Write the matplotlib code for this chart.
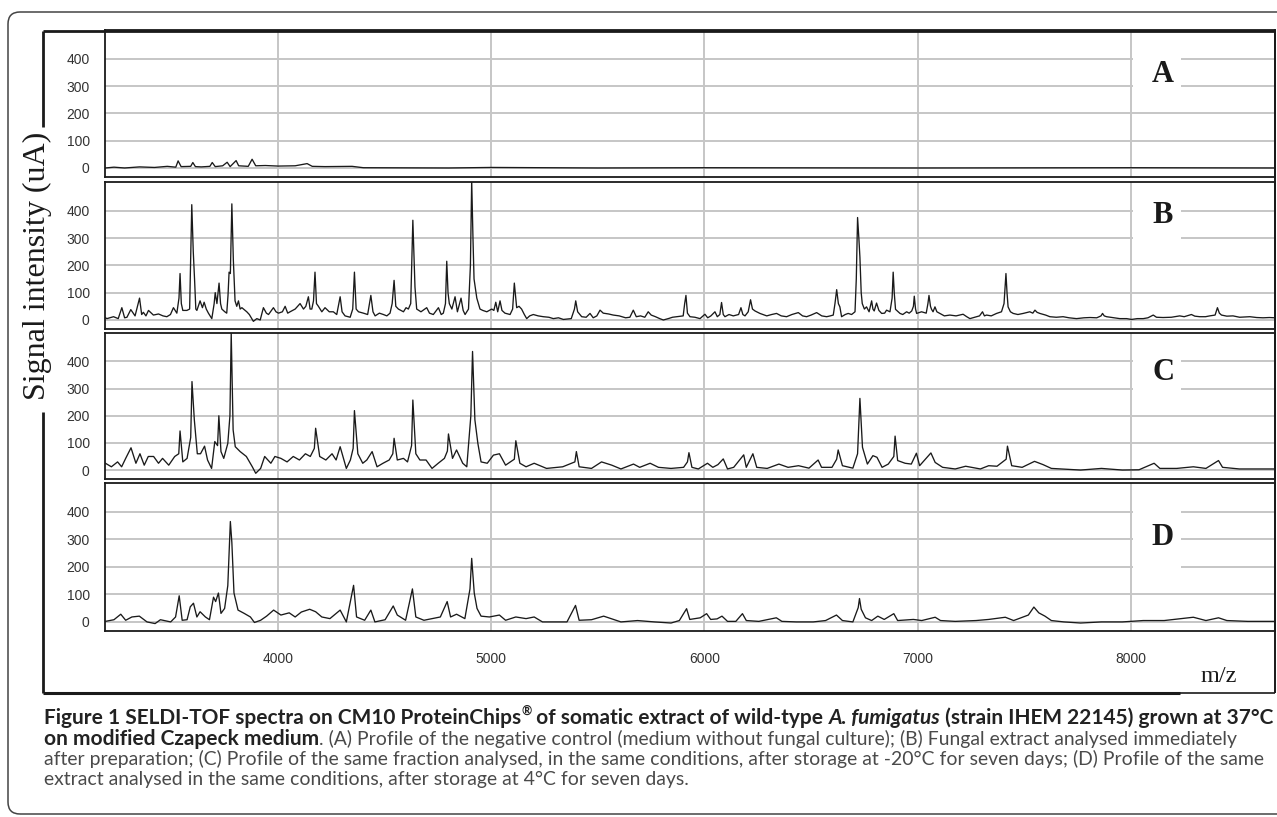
import matplotlib
matplotlib.use('Agg')
import matplotlib.pyplot as plt
from matplotlib.patches import FancyBboxPatch, Rectangle
from matplotlib.lines import Line2D
from matplotlib.transforms import IdentityTransform

# ---- data: (m/z, signal intensity in uA) ----
spec_a = [(3190, 0), (3230, 3), (3280, 0), (3350, 4), (3420, 2), (3480, 6), (3520, 3),
          (3531, 26), (3545, 5), (3590, 6), (3600, 20), (3612, 5), (3640, 4), (3680, 6),
          (3691, 20), (3705, 5), (3740, 8), (3761, 21), (3775, 5), (3803, 27), (3815, 8),
          (3860, 6), (3878, 32), (3895, 8), (3940, 9), (4000, 7), (4080, 8), (4136, 16),
          (4160, 6), (4220, 5), (4347, 6), (4400, 1), (4800, 0), (5000, 2), (5500, 0),
          (6000, 1), (7000, 0), (8000, 1), (8676, 0)]

spec_b = [(3190, 8), (3197, 5), (3228, 12), (3250, 5), (3267, 45), (3280, 8), (3291, 10),
          (3309, 38), (3329, 15), (3350, 80), (3360, 20), (3368, 28), (3380, 15), (3392, 35),
          (3415, 18), (3439, 22), (3460, 15), (3478, 12), (3495, 20), (3509, 45), (3525, 25),
          (3535, 80), (3540, 170), (3546, 60), (3553, 35), (3572, 35), (3585, 40), (3595, 422),
          (3602, 250), (3608, 150), (3614, 40), (3619, 35), (3634, 70), (3645, 45), (3653, 65),
          (3663, 40), (3673, 25), (3689, 5), (3700, 60), (3705, 100), (3713, 60), (3723, 135),
          (3730, 60), (3736, 40), (3750, 30), (3759, 25), (3765, 90), (3770, 175), (3776, 170),
          (3783, 425), (3790, 220), (3798, 70), (3806, 50), (3814, 70), (3822, 40), (3830, 45),
          (3853, 30), (3865, 20), (3884, -5), (3900, 5), (3916, 0), (3931, 45), (3945, 25),
          (3955, 20), (3978, 45), (3990, 30), (4002, 25), (4020, 30), (4033, 50), (4045, 25),
          (4056, 30), (4080, 40), (4103, 60), (4119, 40), (4130, 50), (4142, 85), (4150, 40),
          (4158, 40), (4166, 70), (4173, 175), (4180, 60), (4189, 50), (4205, 30), (4220, 45),
          (4240, 30), (4259, 30), (4275, 20), (4291, 85), (4300, 30), (4314, 15), (4338, 10),
          (4350, 40), (4358, 175), (4366, 40), (4377, 30), (4400, 25), (4420, 20), (4435, 90),
          (4445, 30), (4455, 15), (4475, 25), (4494, 20), (4510, 15), (4525, 25), (4535, 60),
          (4544, 145), (4552, 50), (4564, 40), (4588, 30), (4600, 45), (4611, 40), (4622, 60),
          (4632, 365), (4642, 120), (4650, 40), (4670, 30), (4697, 45), (4710, 25), (4728, 20),
          (4752, 45), (4765, 20), (4775, 25), (4785, 60), (4791, 215), (4797, 100), (4803, 60),
          (4815, 40), (4830, 85), (4841, 30), (4858, 80), (4868, 35), (4877, 20), (4893, 40),
          (4902, 200), (4908, 510), (4914, 300), (4919, 150), (4932, 80), (4947, 40), (4960, 35),
          (4979, 30), (5002, 40), (5012, 35), (5021, 65), (5030, 30), (5041, 70), (5050, 35),
          (5064, 25), (5088, 20), (5100, 40), (5108, 135), (5119, 45), (5130, 50), (5142, 40),
          (5155, 20), (5166, 5), (5180, 15), (5197, 20), (5220, 15), (5244, 12), (5270, 10),
          (5291, 5), (5315, 8), (5338, 2), (5375, 5), (5390, 40), (5396, 70), (5405, 30),
          (5424, 12), (5445, 10), (5463, 24), (5478, 8), (5495, 15), (5510, 36), (5525, 25),
          (5550, 22), (5572, 18), (5600, 15), (5630, 8), (5650, 10), (5666, 36), (5680, 12),
          (5700, 15), (5720, 10), (5736, 30), (5750, 18), (5770, 12), (5790, 5), (5807, 0),
          (5830, 5), (5850, 10), (5869, 12), (5900, 15), (5907, 60), (5913, 90), (5920, 25),
          (5932, 12), (5955, 10), (5979, 5), (6002, 21), (6015, 8), (6030, 15), (6049, 30),
          (6060, 12), (6072, 20), (6080, 64), (6088, 20), (6096, 12), (6115, 20), (6135, 15),
          (6160, 20), (6171, 45), (6180, 20), (6190, 15), (6205, 30), (6216, 74), (6225, 40),
          (6237, 33), (6260, 24), (6292, 15), (6315, 20), (6338, 24), (6360, 15), (6385, 12),
          (6410, 20), (6440, 27), (6460, 15), (6479, 12), (6500, 18), (6526, 27), (6550, 15),
          (6573, 12), (6590, 15), (6604, 18), (6612, 60), (6620, 111), (6628, 60), (6635, 48),
          (6643, 12), (6660, 20), (6674, 24), (6690, 20), (6706, 30), (6712, 150), (6718, 375),
          (6724, 300), (6729, 230), (6735, 100), (6740, 60), (6750, 40), (6760, 48), (6772, 30),
          (6784, 70), (6790, 40), (6796, 33), (6807, 62), (6818, 35), (6831, 24), (6845, 25),
          (6854, 36), (6870, 30), (6880, 80), (6885, 175), (6890, 100), (6896, 39), (6917, 24),
          (6930, 20), (6948, 30), (6960, 25), (6972, 33), (6980, 50), (6984, 87), (6990, 40),
          (6995, 24), (7018, 30), (7040, 25), (7048, 60), (7053, 90), (7060, 50), (7065, 39),
          (7072, 30), (7081, 48), (7090, 30), (7104, 24), (7125, 15), (7151, 18), (7180, 15),
          (7213, 21), (7230, 12), (7245, 5), (7276, 12), (7290, 15), (7304, 30), (7313, 15),
          (7323, 18), (7345, 15), (7370, 24), (7393, 30), (7405, 60), (7414, 170), (7419, 100),
          (7424, 48), (7435, 30), (7448, 24), (7470, 20), (7495, 24), (7526, 30), (7540, 25),
          (7550, 36), (7560, 28), (7573, 24), (7600, 18), (7620, 12), (7650, 10), (7682, 12),
          (7710, 8), (7745, 5), (7780, 8), (7808, 9), (7840, 8), (7860, 15), (7867, 24),
          (7875, 15), (7886, 12), (7920, 8), (7948, 5), (7980, 5), (8003, 2), (8030, 5),
          (8058, 5), (8080, 8), (8105, 18), (8120, 10), (8151, 9), (8190, 10), (8229, 15),
          (8250, 12), (8284, 20), (8300, 14), (8323, 12), (8350, 12), (8370, 15), (8395, 18),
          (8406, 45), (8415, 25), (8425, 18), (8450, 14), (8479, 15), (8510, 10), (8558, 12),
          (8590, 9), (8620, 8), (8650, 9), (8676, 8)]

spec_c = [(3190, 25), (3218, 12), (3247, 30), (3266, 12), (3285, 43), (3310, 82), (3333, 25),
          (3352, 60), (3372, 18), (3391, 50), (3416, 50), (3439, 25), (3458, 43), (3487, 18),
          (3515, 50), (3534, 60), (3540, 144), (3553, 30), (3573, 43), (3590, 120), (3596, 326),
          (3607, 185), (3621, 60), (3636, 60), (3655, 88), (3669, 37), (3688, 6), (3703, 105),
          (3716, 90), (3722, 200), (3732, 68), (3745, 43), (3764, 98), (3774, 200), (3780, 505),
          (3789, 148), (3799, 86), (3822, 68), (3851, 50), (3879, 12), (3895, -12), (3918, 6),
          (3937, 50), (3966, 25), (3985, 50), (4013, 43), (4042, 30), (4071, 50), (4100, 37),
          (4128, 60), (4151, 50), (4170, 80), (4176, 154), (4195, 50), (4224, 37), (4253, 60),
          (4272, 37), (4291, 86), (4320, 6), (4339, 37), (4352, 80), (4358, 219), (4374, 60),
          (4397, 25), (4416, 37), (4441, 68), (4464, 12), (4492, 25), (4521, 37), (4538, 60),
          (4544, 117), (4559, 37), (4588, 43), (4607, 30), (4626, 90), (4632, 258), (4646, 60),
          (4665, 37), (4694, 37), (4722, 6), (4751, 25), (4780, 43), (4794, 70), (4799, 133),
          (4818, 43), (4837, 74), (4866, 25), (4885, 12), (4904, 200), (4912, 437), (4923, 185),
          (4937, 98), (4952, 30), (4981, 25), (5010, 55), (5038, 60), (5067, 18), (5108, 40),
          (5115, 108), (5134, 25), (5163, 12), (5201, 25), (5259, 6), (5335, 12), (5392, 30),
          (5399, 68), (5412, 12), (5470, 6), (5517, 30), (5565, 18), (5608, 4), (5667, 22),
          (5696, 10), (5745, 25), (5784, 10), (5843, 6), (5902, 10), (5920, 30), (5927, 64),
          (5941, 10), (5971, 4), (6014, 25), (6039, 10), (6063, 20), (6088, 41), (6108, 4),
          (6137, 10), (6184, 56), (6196, 10), (6227, 60), (6245, 10), (6294, 6), (6349, 22),
          (6392, 10), (6441, 16), (6490, 7), (6533, 37), (6549, 10), (6598, 10), (6620, 40),
          (6627, 74), (6647, 16), (6696, 7), (6718, 60), (6729, 264), (6741, 84), (6764, 22),
          (6790, 53), (6809, 47), (6833, 10), (6862, 22), (6888, 50), (6894, 125), (6906, 35),
          (6941, 25), (6970, 22), (6994, 62), (7009, 16), (7062, 63), (7082, 28), (7117, 10),
          (7176, 4), (7225, 14), (7294, 4), (7333, 16), (7372, 14), (7415, 40), (7421, 88),
          (7441, 16), (7490, 10), (7548, 32), (7588, 20), (7627, 6), (7764, 0), (7862, 6),
          (7960, 0), (8038, 1), (8109, 25), (8136, 6), (8215, 6), (8293, 12), (8352, 6),
          (8411, 35), (8430, 10), (8509, 4), (8675, 4)]

spec_d = [(3190, 2), (3230, 8), (3262, 28), (3285, 6), (3314, 18), (3349, 21), (3385, 0),
          (3423, -6), (3448, 8), (3496, 0), (3519, 18), (3536, 95), (3550, 6), (3573, 8),
          (3588, 55), (3603, 68), (3619, 18), (3634, 37), (3659, 18), (3678, 8), (3697, 90),
          (3707, 74), (3720, 105), (3732, 31), (3749, 49), (3764, 132), (3776, 365), (3783, 289),
          (3793, 105), (3812, 43), (3841, 31), (3870, 18), (3889, -2), (3918, 6), (3946, 21),
          (3979, 43), (4013, 25), (4052, 33), (4080, 18), (4109, 36), (4148, 46), (4176, 37),
          (4205, 18), (4243, 12), (4291, 43), (4320, 0), (4354, 133), (4368, 18), (4406, 6),
          (4435, 43), (4454, 0), (4502, 8), (4540, 58), (4559, 25), (4598, 6), (4630, 120),
          (4646, 18), (4684, 6), (4761, 18), (4793, 74), (4809, 18), (4837, 28), (4876, 12),
          (4900, 120), (4908, 231), (4920, 105), (4933, 49), (4952, 21), (4991, 18), (5038, 25),
          (5067, 6), (5115, 18), (5163, 12), (5201, 18), (5240, 0), (5355, 0), (5395, 60),
          (5412, 6), (5470, 8), (5527, 21), (5608, 0), (5686, 5), (5765, 0), (5843, -4),
          (5882, 5), (5916, 48), (5931, 9), (5980, 15), (6010, 30), (6029, 9), (6059, 11),
          (6082, 21), (6108, 2), (6147, 2), (6178, 30), (6196, 5), (6255, 2), (6337, 15),
          (6363, 2), (6431, 0), (6510, 0), (6568, 5), (6619, 25), (6647, 5), (6696, 0),
          (6721, 52), (6727, 85), (6735, 46), (6755, 15), (6784, 5), (6813, 21), (6843, 9),
          (6888, 30), (6906, 5), (6980, 9), (7019, 5), (7082, 17), (7107, 5), (7176, 2),
          (7274, 5), (7333, 9), (7411, 17), (7450, 5), (7519, 25), (7545, 54), (7568, 33),
          (7597, 21), (7627, 5), (7686, 0), (7764, -4), (7862, 0), (7960, 0), (8058, 5),
          (8156, 5), (8234, 12), (8293, 17), (8352, 5), (8411, 15), (8450, 5), (8548, 2),
          (8675, 2)]

panel_letters = ['A', 'B', 'C', 'D']
y_ticks = [0, 100, 200, 300, 400]
x_ticks = [4000, 5000, 6000, 7000, 8000]
x_range = (3188, 8676)
y_range = (-33, 505)

caption = [
    [("Figure 1 SELDI-TOF spectra on CM10 ProteinChips", 'bold', 'normal', False),
     ("\u00ae", 'bold', 'normal', True),
     (" of somatic extract of wild-type ", 'bold', 'normal', False),
     ("A. fumigatus", 'bold', 'italic', False),
     (" (strain IHEM 22145) grown at 37\u00b0C", 'bold', 'normal', False)],
    [("on modified Czapeck medium", 'bold', 'normal', False),
     (". (A) Profile of the negative control (medium without fungal culture); (B) Fungal extract analysed immediately",
      'normal', 'normal', False)],
    [("after preparation; (C) Profile of the same fraction analysed, in the same conditions, after storage at -20\u00b0C for seven days; (D) Profile of the same",
      'normal', 'normal', False)],
    [("extract analysed in the same conditions, after storage at 4\u00b0C for seven days.", 'normal', 'normal', False)],
]

# ---- layout (pixels, y from top) ----
W, H = 1277, 817
LEFT, RIGHT = 105, 1275
PANEL_Y = [(30, 177), (182, 329), (333, 479), (483, 631)]
LETTER_BASE = [82, 223, 380, 545]
LETTER_BOX = [(50, 95), (200, 247), (352, 398), (505, 575)]

INK = '#1a1a1a'
GRID = '#c6c6c6'
SERIF = 'Liberation Serif'
SANS = 'Liberation Sans'
CAP_FONT = 'Lato'

fig = plt.figure(figsize=(W / 100, H / 100), dpi=100, facecolor='white')
PX = IdentityTransform()


def P(x, y):
    return x, H - y


def hline(x0, x1, y, lw=2.0, color=INK):
    fig.add_artist(Line2D([x0, x1], [H - y, H - y], transform=PX, lw=lw, color=color,
                          solid_capstyle='butt'))


def vline(x, y0, y1, lw=2.0, color=INK):
    fig.add_artist(Line2D([x, x], [H - y0, H - y1], transform=PX, lw=lw, color=color,
                          solid_capstyle='butt'))


spectra = [spec_a, spec_b, spec_c, spec_d]
for i, (spec, (top, bot)) in enumerate(zip(spectra, PANEL_Y)):
    ax = fig.add_axes([LEFT / W, 1 - bot / H, (RIGHT - LEFT) / W, (bot - top) / H])
    mz = [p[0] for p in spec]
    val = [p[1] for p in spec]
    ax.plot(mz, val, color=INK, lw=0.95, zorder=3)
    ax.set_xlim(*x_range)
    ax.set_ylim(*y_range)
    ax.set_xticks(x_ticks)
    ax.set_yticks(y_ticks)
    ax.grid(True, color=GRID, lw=1.4)
    ax.set_axisbelow(True)
    for s in ax.spines.values():
        s.set_linewidth(1.3)
        s.set_color(INK)
    ax.tick_params(length=0, labelsize=10, colors='#333333')
    ax.tick_params(axis='y', pad=11)
    ax.tick_params(axis='x', pad=15, labelbottom=(i == 3))
    for lab in ax.get_xticklabels() + ax.get_yticklabels():
        lab.set_fontfamily(SANS)

    # white patch behind the panel letter
    y0, y1 = LETTER_BOX[i]
    fig.add_artist(Rectangle(P(1133, y1), 48, y1 - y0, transform=PX,
                             facecolor='white', edgecolor='none', zorder=2))
    fig.text(1163, H - LETTER_BASE[i], panel_letters[i], transform=PX, ha='center',
             va='baseline', fontsize=22, fontweight='bold', family=SERIF, color=INK, zorder=3)

# frame of the figure area
hline(43, 1275, 31)
vline(43, 31, 127)
vline(43, 412, 693)
hline(43, 1180, 693, lw=2.2)
hline(1180, 1275, 693, lw=1.2)
vline(1275, 31, 693, lw=1.4)

fig.text(37, H - 266, 'Signal intensity (uA)', transform=PX, rotation=90, ha='center',
         va='center', fontsize=23, family=SERIF, color=INK)
fig.text(1219, H - 682, 'm/z', transform=PX, ha='center', va='baseline', fontsize=17.5,
         family=SERIF, color=INK)

# outer rounded frame
fig.add_artist(FancyBboxPatch((8, H - 814), 1330, 802, transform=PX,
                              boxstyle='round,pad=0,rounding_size=12',
                              facecolor='none', edgecolor='#444444', lw=1.1))

# ---- caption with mixed styles ----
renderer = fig.canvas.get_renderer()


def advance(txt, **kw):
    t1 = fig.text(0, 0, '|' + txt + '|', transform=PX, **kw)
    w1 = t1.get_window_extent(renderer).width
    t1.remove()
    t2 = fig.text(0, 0, '||', transform=PX, **kw)
    w2 = t2.get_window_extent(renderer).width
    t2.remove()
    return w1 - w2


def run_kw(weight, style, sup, sizes, color):
    size = sizes[weight]
    return dict(fontsize=size * (0.6 if sup else 1.0), fontweight=weight, fontstyle=style,
                family=CAP_FONT, color=color)


def line_width(runs, sizes):
    return sum(advance(t, **run_kw(w, s, sup, sizes, '#222')) for t, w, s, sup in runs)


# regular size fitted to line 3, bold size fitted to line 1 (runs to the right edge)
probe = {'normal': 12, 'bold': 12}
sizes = {'normal': 12 * 1218 / line_width(caption[2], probe),
         'bold': 12 * 1222 / line_width(caption[0], probe)}
baselines = [724, 745, 765, 785]
for runs, base in zip(caption, baselines):
    x = 44
    for txt, weight, style, sup in runs:
        color = '#222222' if weight == 'bold' else '#4a4a4a'
        kw = run_kw(weight, style, sup, sizes, color)
        rise = sizes[weight] * 100 / 72 * 0.45 if sup else 0
        fig.text(x, H - base + rise, txt, transform=PX, ha='left', va='baseline', **kw)
        x += advance(txt, **kw)

fig.savefig('out.png', dpi=100, facecolor='white')
